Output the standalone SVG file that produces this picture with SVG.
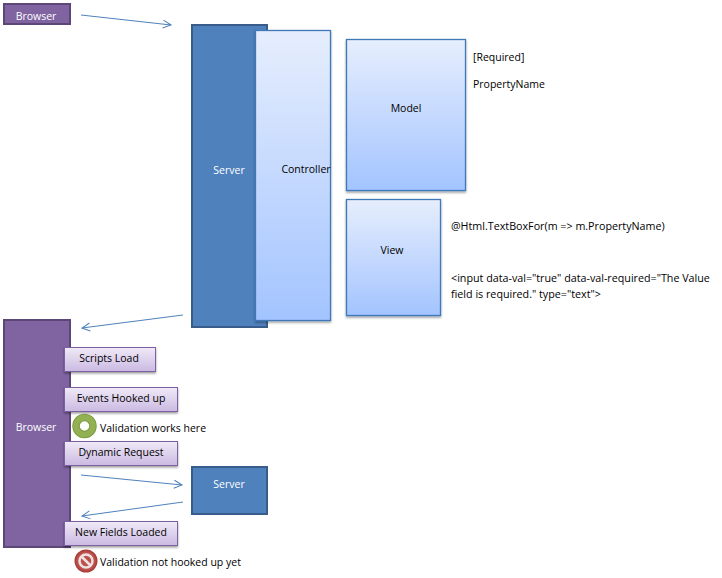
<svg xmlns="http://www.w3.org/2000/svg" width="722" height="578" viewBox="0 0 722 578">
<style>
text{font-family:"Open Sans","Noto Sans","DejaVu Sans",sans-serif;font-size:10.5px;fill:#000}
.c{text-anchor:middle}
.w{fill:#fff}
.n{font-size:10.72px}
.pu{fill:#8064a2;stroke:#5c4776;stroke-width:2}
.bl{fill:#4f81bd;stroke:#385d8a;stroke-width:2}
.gr{fill:url(#g1);stroke:#4179b8;stroke-width:1.300;filter:url(#sh)}
.pb{fill:url(#g2);stroke:#7d60a0;stroke-width:1;filter:url(#sh)}
.cn{fill:none;stroke:#4f81bd;stroke-width:1;marker-end:url(#a)}
</style>
<defs>
<linearGradient id="g1" x1="0" y1="0" x2="0" y2="1"><stop offset="0" stop-color="#e6eefd"/><stop offset="1" stop-color="#a3c4ff"/></linearGradient>
<linearGradient id="g2" x1="0" y1="0" x2="0" y2="1"><stop offset="0" stop-color="#f0eaf7"/><stop offset="1" stop-color="#cbb9e2"/></linearGradient>
<filter id="sh" x="-10%" y="-10%" width="120%" height="125%"><feDropShadow dx="0" dy="1.500" stdDeviation="1.200" flood-color="#000" flood-opacity="0.4"/></filter>
<marker id="a" markerUnits="userSpaceOnUse" markerWidth="10" markerHeight="12" refX="9" refY="5" orient="auto" viewBox="0 0 10 10"><path d="M1 1L9 5L1 9" fill="none" stroke="#4f81bd" stroke-width="1"/></marker>
</defs>
<g id="connectors">
<path class="cn" d="M81 15L171 25"/>
<path class="cn" d="M183 315L82 328"/>
<path class="cn" d="M81 475L182 485"/>
<path class="cn" d="M183 502L82 516"/>
</g>
<g id="browser-top"><rect class="pu" x="4" y="4" width="66" height="20"/><text class="c w" x="36" y="20">Browser</text></g>
<g id="server-main"><rect class="bl" x="192" y="25" width="75" height="302"/><text class="c w" x="229" y="174">Server</text></g>
<g id="controller"><rect class="gr" x="255.500" y="30.500" width="75" height="290"/><text class="c" x="306" y="173">Controller</text></g>
<g id="model"><rect class="gr" x="346.500" y="39.500" width="119" height="151"/><text class="c" x="406" y="112">Model</text></g>
<g id="view"><rect class="gr" x="346.500" y="199.500" width="94" height="116"/><text class="c" x="392" y="254">View</text></g>
<g id="note-required"><text x="473" y="61">[Required]</text></g>
<g id="note-property"><text x="473" y="88">PropertyName</text></g>
<g id="note-helper"><text class="n" x="451" y="230">@Html.TextBoxFor(m =&gt; m.PropertyName)</text></g>
<g id="note-input"><text class="n" x="451" y="282">&lt;input data-val="true" data-val-required="The Value</text><text class="n" x="451" y="298">field is required." type="text"&gt;</text></g>
<g id="browser-main"><rect class="pu" x="4" y="320" width="66" height="227"/><text class="c w" x="36" y="431">Browser</text></g>
<g id="scripts-load"><rect class="pb" x="64.500" y="347.500" width="91" height="24"/><text class="c" x="109" y="362">Scripts Load</text></g>
<g id="events-hooked"><rect class="pb" x="64.500" y="387.500" width="113" height="24"/><text class="c" x="121" y="402">Events Hooked up</text></g>
<g id="dynamic-request"><rect class="pb" x="64.500" y="441.500" width="113" height="24"/><text class="c" x="121" y="456">Dynamic Request</text></g>
<g id="new-fields"><rect class="pb" x="64.500" y="521.500" width="113" height="24"/><text class="c" x="121" y="536">New Fields Loaded</text></g>
<g id="server-small"><rect class="bl" x="192" y="467" width="75" height="47"/><text class="c w" x="229" y="488">Server</text></g>
<g id="ok-icon"><circle cx="84.500" cy="426" r="8.500" fill="none" stroke="#7c9a3f" stroke-width="7.500"/><circle cx="84.500" cy="426" r="8.500" fill="none" stroke="#93b052" stroke-width="5.500"/><text x="100" y="432">Validation works here</text></g>
<g id="no-icon"><circle cx="86" cy="561" r="11.500" fill="#a83f3a"/><circle cx="86" cy="561" r="10" fill="#bd514c"/><circle cx="86" cy="561" r="6.500" fill="none" stroke="#efe3e2" stroke-width="2.500"/><path d="M81.500 556.500L90.500 565.500" stroke="#efe3e2" stroke-width="2.500"/><text x="100" y="566">Validation not hooked up yet</text></g>
</svg>
